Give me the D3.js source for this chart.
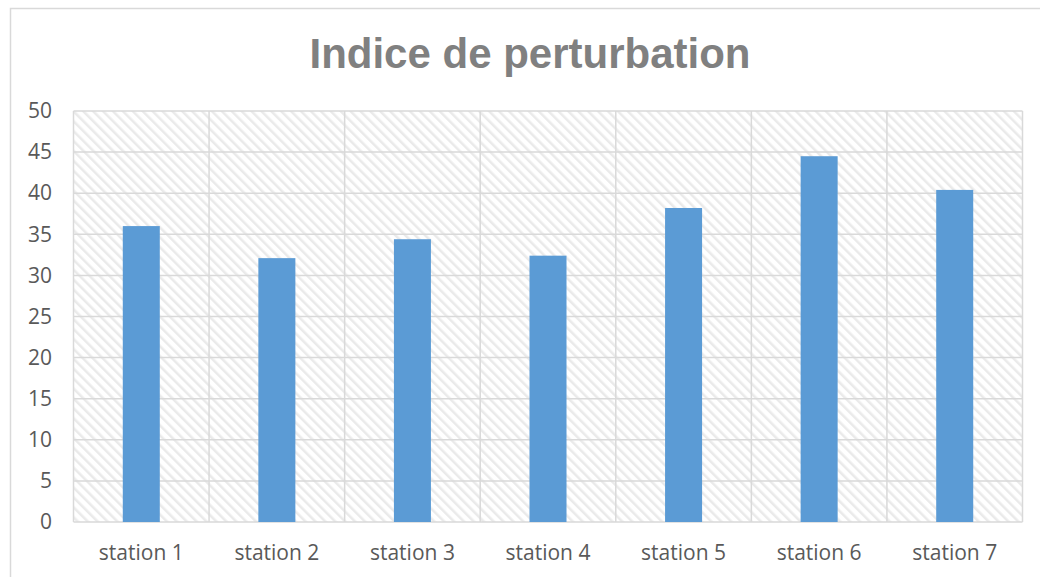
<!DOCTYPE html>
<html>
<head>
<meta charset="utf-8">
<script src="https://cdn.jsdelivr.net/npm/d3@7/dist/d3.min.js"></script>
<style>
  html, body { margin: 0; padding: 0; background: #fff; }
  svg { display: block; }
</style>
</head>
<body>
<svg id="chart" width="1040" height="577"></svg>
<script>
// Indice de perturbation par station
const categories = ["station 1", "station 2", "station 3", "station 4", "station 5", "station 6", "station 7"];
const values = [36.0, 32.1, 34.4, 32.4, 38.2, 44.5, 40.4];
const yTicks = [0, 5, 10, 15, 20, 25, 30, 35, 40, 45, 50];
const title = "Indice de perturbation";

const svg = d3.select("#chart");
const plot = { left: 73.5, right: 1022.5, top: 111, bottom: 522 };
const labelFont = "'Open Sans', Lato, sans-serif";

// hatched background pattern (wide downward diagonal)
const defs = svg.append("defs");
const pat = defs.append("pattern")
  .attr("id", "hatch")
  .attr("patternUnits", "userSpaceOnUse")
  .attr("width", 7).attr("height", 7)
  .attr("patternTransform", "rotate(-45)");
pat.append("rect").attr("width", 7).attr("height", 7).attr("fill", "#ffffff");
pat.append("rect").attr("x", 0).attr("y", 0).attr("width", 2.5).attr("height", 7).attr("fill", "#eaeaea");

// chart frame
svg.append("rect")
  .attr("x", 10.5).attr("y", 8.5)
  .attr("width", 1100).attr("height", 700)
  .attr("fill", "#fff")
  .attr("stroke", "#d9d9d9").attr("stroke-width", 1.5);

const x = d3.scaleBand()
  .domain(categories)
  .range([plot.left, plot.right])
  .paddingInner(0.727).paddingOuter(0.3635);

const xCat = d3.scaleBand()
  .domain(categories)
  .range([plot.left, plot.right]);

const y = d3.scaleLinear()
  .domain([0, 50])
  .range([plot.bottom, plot.top]);

// plot area background
svg.append("rect")
  .attr("x", plot.left).attr("y", plot.top)
  .attr("width", plot.right - plot.left)
  .attr("height", plot.bottom - plot.top)
  .attr("fill", "url(#hatch)");

// horizontal gridlines
svg.append("g")
  .selectAll("line")
  .data(yTicks)
  .join("line")
  .attr("x1", plot.left).attr("x2", plot.right)
  .attr("y1", d => y(d)).attr("y2", d => y(d))
  .attr("stroke", "#d9d9d9").attr("stroke-width", 1.5);

// vertical gridlines between categories
const vLines = categories.map(c => xCat(c)).concat([plot.right]);
svg.append("g")
  .selectAll("line")
  .data(vLines)
  .join("line")
  .attr("x1", d => d).attr("x2", d => d)
  .attr("y1", plot.top).attr("y2", plot.bottom)
  .attr("stroke", "#d9d9d9").attr("stroke-width", 1.5);

// bars
svg.append("g")
  .selectAll("rect")
  .data(values)
  .join("rect")
  .attr("x", (d, i) => x(categories[i]))
  .attr("width", x.bandwidth())
  .attr("y", d => y(d))
  .attr("height", d => y(0) - y(d))
  .attr("fill", "#5b9bd5");

// y axis labels
const yAxis = d3.axisLeft(y).tickValues(yTicks).tickSize(0).tickPadding(0);
const gy = svg.append("g")
  .attr("transform", `translate(52,0)`)
  .call(yAxis);
gy.select(".domain").remove();
gy.selectAll("text")
  .attr("fill", "#595959")
  .style("font-family", labelFont)
  .style("font-size", "21px");

// x axis labels
const xAxis = d3.axisBottom(xCat).tickSize(0).tickPadding(0);
const gx = svg.append("g")
  .attr("transform", `translate(0,${plot.bottom + 23})`)
  .call(xAxis);
gx.select(".domain").remove();
gx.selectAll("text")
  .attr("fill", "#595959")
  .style("font-family", labelFont)
  .style("font-size", "21px");

// title
svg.append("text")
  .attr("x", 530)
  .attr("y", 68)
  .attr("text-anchor", "middle")
  .attr("fill", "#808080")
  .style("font-family", "'Liberation Sans', Arial, sans-serif")
  .style("font-weight", "bold")
  .style("font-size", "42px")
  .text(title);
</script>
</body>
</html>
